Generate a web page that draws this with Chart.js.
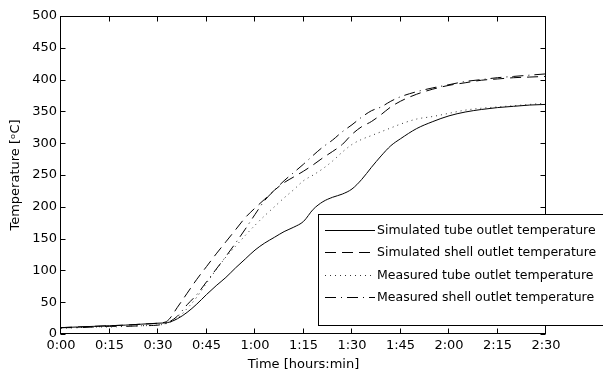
<!DOCTYPE html>
<html>
<head>
<meta charset="utf-8">
<script src="https://cdn.jsdelivr.net/npm/chart.js@4.4.0/dist/chart.umd.min.js"></script>
<style>
  body { margin: 0; background: #fff; }
  canvas { display: block; }
</style>
</head>
<body>
<canvas id="tempChart" width="603" height="373"></canvas>
<script>
// sample times, minutes from start
const minutes = [0, 5, 10, 15, 20, 25, 30, 33, 36, 39, 42, 45, 48, 51, 54, 57, 60, 63, 66, 69, 72, 75, 78, 81, 84, 87, 90, 93, 96, 99, 102, 105, 110, 115, 120, 125, 130, 135, 140, 145, 150];

// temperatures [C]
const simTube   = [10, 11, 12, 13, 14, 15.5, 17, 18, 24, 34, 47, 62, 76, 89, 104, 118, 132, 143, 152, 161, 168, 177, 196, 208, 215, 220, 228, 243, 262, 280, 296, 307, 323, 334, 343, 349, 353, 356, 358, 360, 361];
const simShell  = [10, 11, 12, 13, 14, 15.5, 17, 21, 42, 64, 86, 106, 126, 145, 164, 183, 198, 212, 226, 238, 247, 256, 266, 277, 287, 298, 314, 326, 334, 345, 357, 366, 377, 385, 391, 395, 399, 401, 403, 404, 405];
const measTube  = [9, 10, 11, 11, 12, 13, 14, 17, 25, 40, 58, 80, 101, 121, 138, 155, 171, 186, 200, 214, 227, 241, 250, 260, 272, 286, 298, 306, 312, 318, 324, 330, 338, 342, 347, 352, 355, 357, 359, 361, 363];
const measShell = [10, 10, 11, 12, 12, 13, 14, 18, 28, 46, 62, 82, 102, 122, 143, 165, 188, 210, 226, 241, 254, 267, 281, 294, 305, 318, 329, 341, 351, 357, 366, 373, 381, 387, 392, 397, 400, 403, 405, 407, 409];

const tickMinutes = [0, 15, 30, 45, 60, 75, 90, 105, 120, 135, 150];
const timeTicks = ['0:00', '0:15', '0:30', '0:45', '1:00', '1:15', '1:30', '1:45', '2:00', '2:15', '2:30'];

const seriesLabels = [
  'Simulated tube outlet temperature',
  'Simulated shell outlet temperature',
  'Measured tube outlet temperature',
  'Measured shell outlet temperature'
];

function points(vals) {
  return minutes.map((m, i) => ({ x: m, y: vals[i] }));
}

// box round the plot with inward ticks on all four sides
const framePlugin = {
  id: 'frame',
  afterDatasetsDraw(chart) {
    const { ctx, chartArea: a, scales: { x, y } } = chart;
    const L = Math.round(a.left) - 0.5, R = Math.round(a.right) - 0.5;
    const T = Math.round(a.top) + 0.5, B = Math.round(a.bottom) - 0.5;
    ctx.save();
    ctx.strokeStyle = '#000';
    ctx.lineWidth = 1;
    ctx.setLineDash([]);
    ctx.strokeRect(L, T, R - L, B - T);
    ctx.beginPath();
    x.ticks.forEach(t => {
      const px = Math.round(x.getPixelForValue(t.value)) - 0.5;
      ctx.moveTo(px, B); ctx.lineTo(px, B - 5);
      ctx.moveTo(px, T); ctx.lineTo(px, T + 5);
    });
    y.ticks.forEach(t => {
      const py = Math.round(y.getPixelForValue(t.value)) + 0.5;
      ctx.moveTo(L, py); ctx.lineTo(L + 5, py);
      ctx.moveTo(R, py); ctx.lineTo(R - 5, py);
    });
    ctx.stroke();
    ctx.restore();
  }
};

// legend box sits over the lower right, running off the canvas
const boxLegend = {
  id: 'boxLegend',
  afterDraw(chart) {
    const ctx = chart.ctx;
    const rows = [230, 252, 275, 297];
    ctx.save();
    ctx.fillStyle = '#fff';
    ctx.fillRect(318, 214, 300, 112);
    ctx.strokeStyle = '#000';
    ctx.lineWidth = 1;
    ctx.strokeRect(318.5, 214.5, 300, 111);
    ctx.font = '12.5px "DejaVu Sans"';
    ctx.textBaseline = 'middle';
    chart.data.datasets.forEach((ds, i) => {
      const yy = rows[i] + 0.5;
      ctx.strokeStyle = ds.borderColor;
      ctx.setLineDash(ds.borderDash || []);
      ctx.beginPath();
      ctx.moveTo(325, yy);
      ctx.lineTo(375, yy);
      ctx.stroke();
      ctx.fillStyle = '#000';
      ctx.fillText(ds.label, 377, rows[i] + 1);
    });
    ctx.restore();
  }
};

const axisFont = { family: 'DejaVu Sans', size: 13 };

new Chart(document.getElementById('tempChart'), {
  type: 'line',
  data: {
    datasets: [
      { label: seriesLabels[0], data: points(simTube), borderColor: '#000', borderDash: [] },
      { label: seriesLabels[1], data: points(simShell), borderColor: '#000', borderDash: [11, 6] },
      { label: seriesLabels[2], data: points(measTube), borderColor: '#333', borderDash: [1, 4] },
      { label: seriesLabels[3], data: points(measShell), borderColor: '#000', borderDash: [11, 5, 1, 5] }
    ]
  },
  options: {
    responsive: false,
    animation: false,
    devicePixelRatio: 1,
    layout: { padding: { top: 16, right: 57, left: 0, bottom: 0 } },
    elements: {
      point: { radius: 0 },
      line: { borderWidth: 1, cubicInterpolationMode: 'monotone', fill: false }
    },
    plugins: { legend: { display: false }, tooltip: { enabled: false } },
    scales: {
      x: {
        type: 'linear',
        min: 0,
        max: 150,
        afterBuildTicks: s => { s.ticks = tickMinutes.map(v => ({ value: v })); },
        afterFit: s => { s.height = 39; },
        grid: { display: false, drawTicks: false },
        border: { display: false },
        ticks: { color: '#000', font: axisFont, padding: 4, maxRotation: 0, callback: (v, i) => timeTicks[i] },
        title: { display: true, text: 'Time [hours:min]', color: '#000', font: axisFont, padding: { top: 0, bottom: 1 } }
      },
      y: {
        min: 0,
        max: 500,
        afterFit: s => { s.width = 61; },
        grid: { display: false, drawTicks: false },
        border: { display: false },
        ticks: { color: '#000', font: axisFont, padding: 4, stepSize: 50 },
        title: { display: true, text: 'Temperature [ᵒC]', color: '#000', font: axisFont, padding: { top: 8, bottom: 0 } }
      }
    }
  },
  plugins: [framePlugin, boxLegend]
});
</script>
</body>
</html>
